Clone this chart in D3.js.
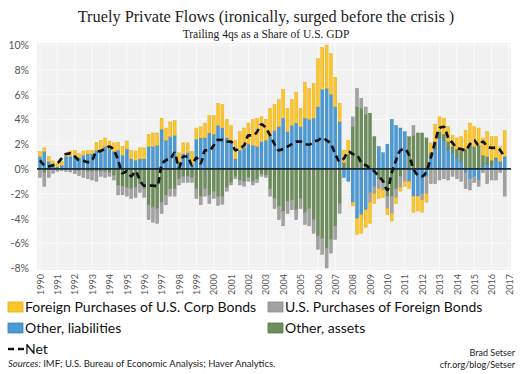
<!DOCTYPE html>
<html><head><meta charset="utf-8">
<script src="https://cdn.jsdelivr.net/npm/d3@7"></script>
<style>
body{margin:0;background:#fff;}
svg{display:block;}
</style></head>
<body><svg id="c" width="520" height="374"></svg>
<script>
const years = [1990,1991,1992,1993,1994,1995,1996,1997,1998,1999,2000,2001,2002,2003,2004,2005,2006,2007,2008,2009,2010,2011,2012,2013,2014,2015,2016,2017];
const yTicks = [10,8,6,4,2,0,-2,-4,-6,-8];
const seriesNames = ["Foreign Purchases of U.S. Corp Bonds","U.S. Purchases of Foreign Bonds","Other, liabilities","Other, assets","Net"];
// quarterly, 1990Q1 .. 2016Q4, % of GDP
const corp = [0.4,0.3,0.4,0.35,0.3,0.3,0.25,0.45,0.4,0.35,0.35,0.3,0.3,0.65,0.7,0.7,0.65,0.7,0.65,0.7,0.65,0.7,0.75,0.9,0.9,1.0,1.1,1.0,0.9,1.0,1.2,1.2,
0.8,0.9,0.8,1.0,0.9,0.9,1.2,1.4,1.5,1.8,1.9,1.5,1.3,1.5,1.5,1.6,1.7,2.1,2.3,2.0,1.7,2.3,2.1,2.2,
2.3,1.9,2.1,2.5,1.5,2.9,2.5,2.8,3.9,3.4,3.5,3.3,2.4,1.5,1.0,1.1,-0.3,-1.3,-1.5,-1.4,-1.7,-0.8,-0.8,-0.6,
-0.5,-0.6,-0.5,-0.3,-0.4,-0.6,-1.3,-1.2,-1.0,-0.7,0.8,1.4,1.2,1.3,1.2,0.9,0.9,1.1,1.5,1.7,1.6,1.4,1.4,2.0,1.9,1.7,1.2,2.1];
const fbonds = [-0.6,-1.1,-0.6,-0.3,-0.15,-0.1,-0.15,-0.2,-0.3,-0.4,-0.55,-0.6,-0.7,-0.8,-0.4,-0.5,-0.3,-0.4,-0.8,-0.7,-0.7,-0.8,-0.8,-0.7,-0.7,-1.2,-1.2,-1.2,-0.9,-0.8,-0.6,-0.6,
-0.5,-0.5,-0.5,-0.4,-0.8,-0.7,-0.6,-0.7,-0.6,-0.75,-0.65,-0.3,-0.2,-0.2,-0.4,-0.4,-0.3,-0.3,-0.3,-0.2,-0.2,-0.6,-0.8,-1.1,
-1.2,-1.0,-0.8,-0.8,-0.8,-1.0,-1.4,-1.1,-1.1,-1.3,-1.6,-1.1,-1.1,-0.8,0,0,0.8,1.5,0.8,0.6,-0.8,-0.6,-0.8,-0.7,
-1.0,-1.4,-0.7,-0.9,-1.0,0,0.8,0,-0.5,-1.4,-1.2,-1.2,-0.9,-0.8,-0.9,-0.6,-0.8,-1.0,-1.3,-0.9,-0.5,-0.5,-0.3,-1.2,-0.9,-0.9,-0.3,-2.2];
const liab = [1.0,1.4,0.6,0.3,0.15,0.3,1.0,1.0,1.1,0.9,1.1,1.2,1.2,1.5,1.6,1.8,1.6,1.4,1.5,1.1,1.6,0.8,0.7,0.8,0.8,1.8,1.8,1.9,3.2,2.3,2.6,2.7,
0.5,1.2,1.3,0.4,2.4,2.5,2.5,2.9,2.8,3.5,3.3,2.5,2.2,0.8,1.5,1.7,2.0,1.9,1.8,2.2,2.3,2.6,3.1,3.4,
4.1,3.0,3.5,3.7,3.4,4.1,4.0,4.1,5.0,6.4,6.5,6.0,5.0,3.8,-0.7,-1.0,-2.7,-4.0,-3.7,-3.3,-1.9,-1.4,1.8,1.3,
2.0,4.0,3.5,3.3,3.0,-1.0,-2.2,-2.2,-2.0,-0.6,1.0,1.6,2.5,2.3,1.6,1.3,0.9,0.6,-0.3,-0.8,-0.6,-0.9,0.2,0.4,0.3,0.8,0.6,1.0];
const assets = [-0.1,-0.3,-0.1,-0.05,-0.05,-0.05,-0.05,-0.05,-0.1,-0.15,-0.15,-0.2,-0.2,-0.2,-0.2,-0.2,-0.3,-0.5,-1.3,-1.4,-1.5,-1.6,-1.5,-1.2,-1.6,-2.9,-3.1,-3.2,-2.7,-2.1,-1.6,-1.6,
-0.8,-0.6,-0.6,-0.7,-1.6,-2.2,-1.6,-2.1,-1.8,-2.2,-2.2,-1.5,-1.1,-0.6,-0.9,-1.0,-0.7,-1.0,-0.8,-0.4,-0.5,-1.6,-2.4,-3.0,
-3.4,-2.6,-2.5,-3.3,-2.4,-3.5,-3.2,-4.1,-5.4,-5.6,-6.4,-5.7,-4.6,-2.8,0.5,1.2,3.4,5.0,4.9,4.4,4.5,2.6,-0.8,-1.0,
-2.2,-2.2,-1.6,-0.6,0,2.6,2.7,2.9,2.9,2.5,0.3,0.6,0.5,0.5,0.6,0.5,0.7,0.9,1.6,2.0,1.8,1.9,0.9,0.6,0.4,0.1,0,0];
const net = [0.7,0.3,0.2,0.3,0.45,0.85,1.2,1.25,1.0,0.7,0.65,0.55,0.7,1.4,1.45,1.65,1.8,1.5,0.7,-0.35,-0.2,-0.6,-0.2,-0.9,-1.35,-1.35,-1.35,-1.4,0.3,0.7,0.8,1.3,
0.1,1.0,1.0,0.3,0.9,0.45,1.5,1.5,1.9,2.35,2.35,2.2,2.2,1.5,1.7,1.9,2.7,2.7,3.0,3.6,3.3,2.7,2.0,1.5,
1.6,1.8,2.0,2.2,2.2,2.0,1.95,2.2,2.3,2.5,2.3,2.0,1.2,0.6,0.85,1.4,1.2,1.1,0.5,0.3,0.05,-0.2,-0.6,-1.0,
-1.7,-0.3,0.7,1.5,1.6,1.1,0.0,-0.5,-0.6,-0.2,0.9,2.2,3.3,3.4,2.5,2.1,1.7,1.6,1.5,2.0,2.3,1.9,2.2,1.8,1.7,1.7,1.5,0.9];

const colors = {liab:"#4a9ad6", assets:"#6d8d5c", fbonds:"#a2a2a2", corp:"#fcc52a"};
const edge = {liab:"#3a7fb6", assets:"#5a7a4a", fbonds:"#8c8c8c", corp:"#e3ab1a"};

const rows = corp.map((c,i)=>({t: 1990 + i/4, corp:c, fbonds:fbonds[i], liab:liab[i], assets:assets[i], net:net[i]}));

const svg = d3.select("#c");
const x = d3.scaleLinear().domain([1990, 2017]).range([40, 509]);
const y = d3.scaleLinear().domain([-8, 10]).range([268, 45]);

// plot background
svg.append("rect").attr("x", 37).attr("y", y(10)-2).attr("width", 474).attr("height", y(-8)-y(10)+4).attr("fill", "#f1f1f1");

// grid
svg.append("g").selectAll("line").data(yTicks).join("line")
  .attr("x1", 37).attr("x2", 511).attr("y1", d=>y(d)).attr("y2", d=>y(d))
  .attr("stroke", "#fafafa").attr("stroke-width", 1);
svg.append("g").selectAll("line").data(years).join("line")
  .attr("x1", d=>x(d)).attr("x2", d=>x(d)).attr("y1", y(10)-2).attr("y2", y(-8)+2)
  .attr("stroke", "#fafafa").attr("stroke-width", 1);

// y labels
const yAxis = d3.axisLeft(y).tickValues(yTicks).tickFormat(d=>d+"%").tickSize(0).tickPadding(0);
const gy = svg.append("g").attr("transform","translate(29,0)").call(yAxis);
gy.select(".domain").remove();
gy.selectAll("text").attr("font-family","Lato, sans-serif").attr("font-size","10.5px").attr("fill","#555").attr("dy","0.34em");

// x labels
const xAxis = d3.axisBottom(x).tickValues(years).tickFormat(d3.format("d")).tickSize(0);
const gx = svg.append("g").attr("transform","translate(0,272)").call(xAxis);
gx.select(".domain").remove();
gx.selectAll("text").attr("font-family","Lato, sans-serif").attr("font-size","9px").attr("fill","#555")
  .attr("transform","rotate(-90)").attr("text-anchor","end").attr("x",-2).attr("y",0).attr("dy","0.35em");

// stacked bars
const keys = ["liab","assets","fbonds","corp"];
const stack = d3.stack().keys(keys).offset(d3.stackOffsetDiverging)(rows);
const bw = 3;
svg.append("g").selectAll("g").data(stack).join("g")
  .attr("fill", d=>colors[d.key]).attr("stroke", d=>edge[d.key]).attr("stroke-width",0.4)
  .selectAll("rect").data(d=>d).join("rect")
  .attr("x", d=>x(d.data.t)-bw/2).attr("width", bw)
  .attr("y", d=>y(Math.max(d[0],d[1])))
  .attr("height", d=>Math.abs(y(d[0])-y(d[1])));

// zero line
svg.append("line").attr("x1",37).attr("x2",511).attr("y1",y(0)).attr("y2",y(0)).attr("stroke","#1d2a38").attr("stroke-width",1.6);

// net line
const line = d3.line().x(d=>x(d.t)).y(d=>y(d.net)).curve(d3.curveMonotoneX);
svg.append("path").datum(rows).attr("d", line).attr("fill","none").attr("stroke","#111")
  .attr("stroke-width",2.7).attr("stroke-dasharray","6.5,4");

// titles
svg.append("text").attr("x",266).attr("y",22).attr("text-anchor","middle")
  .attr("font-family","'Liberation Serif', 'DejaVu Serif', serif").attr("font-size","16.3px").attr("fill","#222")
  .text("Truely Private Flows (ironically, surged before the crisis )");
svg.append("text").attr("x",266).attr("y",38).attr("text-anchor","middle")
  .attr("font-family","'Liberation Serif', 'DejaVu Serif', serif").attr("font-size","11.5px").attr("fill","#222")
  .text("Trailing 4qs as a Share of U.S. GDP");

// legend
const leg = svg.append("g").attr("font-family","Lato, sans-serif").attr("font-size","14px").attr("fill","#111");
const legItems = [
  {key:"corp", name:seriesNames[0], x:8, y:307},
  {key:"fbonds", name:seriesNames[1], x:268, y:307},
  {key:"liab", name:seriesNames[2], x:8, y:328},
  {key:"assets", name:seriesNames[3], x:268, y:328}
];
legItems.forEach(it=>{
  leg.append("rect").attr("x",it.x).attr("y",it.y-5).attr("width",15).attr("height",10)
    .attr("fill",colors[it.key]).attr("stroke",edge[it.key]).attr("stroke-width",0.8);
  leg.append("text").attr("x",it.x+17).attr("y",it.y).attr("dy","0.35em").text(it.name);
});
leg.append("line").attr("x1",8).attr("x2",24).attr("y1",349).attr("y2",349).attr("stroke","#111").attr("stroke-width",2.6).attr("stroke-dasharray","6,4");
leg.append("text").attr("x",25).attr("y",349).attr("dy","0.35em").text(seriesNames[4]);

// sources
const src = svg.append("text").attr("x",8).attr("y",367).attr("font-family","Lato, sans-serif").attr("font-size","9.5px").attr("fill","#222");
src.append("tspan").attr("font-style","italic").text("Sources:");
src.append("tspan").text(" IMF; U.S. Bureau of Economic Analysis; Haver Analytics.");
svg.append("text").attr("x",515).attr("y",356).attr("text-anchor","end").attr("font-family","Lato, sans-serif").attr("font-size","9px").attr("fill","#222").text("Brad Setser");
svg.append("text").attr("x",515).attr("y",368).attr("text-anchor","end").attr("font-family","Lato, sans-serif").attr("font-size","9px").attr("fill","#222").text("cfr.org/blog/Setser");
</script></body></html>
